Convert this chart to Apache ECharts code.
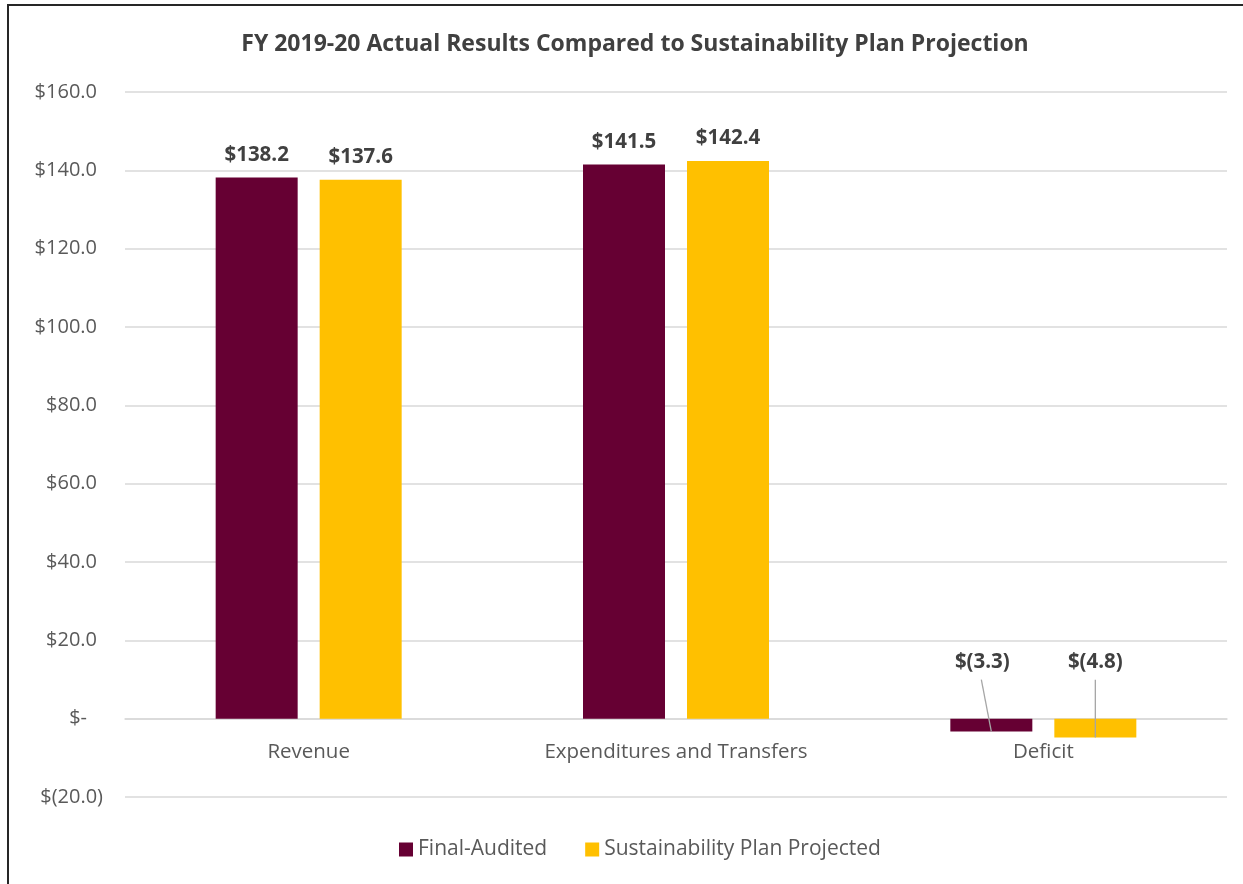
<!DOCTYPE html>
<html>
<head>
<meta charset="utf-8">
<script src="https://cdn.jsdelivr.net/npm/echarts@6/dist/echarts.min.js"></script>
<style>
html,body{margin:0;padding:0;background:#fff;}
#chart{width:1243px;height:884px;}
</style>
</head>
<body>
<div id="chart"></div>
<script>
const categories = ['Revenue', 'Expenditures and Transfers', 'Deficit'];
const seriesNames = ['Final-Audited', 'Sustainability Plan Projected'];
const finalAudited = [138.2, 141.5, -3.3];
const planProjected = [137.6, 142.4, -4.8];
const yTicks = { min: -20, max: 160, interval: 20 };

const FONT = '"Open Sans", sans-serif';
const COLORS = ['#660033', '#FFC000'];
const GRID = { left: 125, right: 16, top: 92, bottom: 87 };
const BAR_W = 82, BAR_GAP = 22;
const NEG_LABEL_DIST = 46;
const fmt = v => v < 0 ? '$(' + Math.abs(v).toFixed(1) + ')' : (v === 0 ? '$-' : '$' + v.toFixed(1));

const chart = echarts.init(document.getElementById('chart'), null, { renderer: 'canvas' });
const plotH = 884 - GRID.top - GRID.bottom;
const zeroOffset = (0 - yTicks.min) / (yTicks.max - yTicks.min) * plotH;

function barSeries(name, data, color, sIdx) {
  return {
    name: name,
    type: 'bar',
    barWidth: BAR_W,
    barGap: (BAR_GAP / BAR_W * 100) + '%',
    itemStyle: { color: color },
    z: 3,
    data: data.map(v => {
      const neg = v < 0;
      return {
        value: v,
        label: {
          show: true,
          position: 'top',
          distance: neg ? NEG_LABEL_DIST : 12,
          offset: neg && sIdx === 0 ? [-9, 0] : [0, 0],
          formatter: p => fmt(p.value),
          color: '#404040',
          fontFamily: FONT,
          fontWeight: 'bold',
          fontSize: 20.5
        }
      };
    })
  };
}

// leader lines for negative values (label bottom -> bar bottom)
const leaderData = [];
[finalAudited, planProjected].forEach((arr, s) => {
  arr.forEach((v, i) => { if (v < 0) leaderData.push([i, v, s]); });
});

chart.setOption({
  animation: false,
  title: {
    text: 'FY 2019-20 Actual Results Compared to Sustainability Plan Projection',
    left: 630,
    textAlign: 'center',
    top: 28,
    textStyle: { fontFamily: FONT, fontWeight: 'bold', fontSize: 23, color: '#404040' }
  },
  legend: {
    bottom: 19,
    left: 394,
    itemWidth: 14,
    itemHeight: 14,
    itemGap: 38,
    icon: 'rect',
    textStyle: { fontFamily: FONT, fontSize: 21, color: '#595959' },
    data: seriesNames
  },
  grid: Object.assign({ containLabel: false }, GRID),
  xAxis: {
    type: 'category',
    data: categories,
    offset: -zeroOffset,
    axisLine: { onZero: false, lineStyle: { color: '#d9d9d9', width: 1.5 } },
    axisTick: { show: false },
    axisLabel: { fontFamily: FONT, fontSize: 20.5, color: '#595959', margin: 23 }
  },
  yAxis: {
    type: 'value',
    min: yTicks.min,
    max: yTicks.max,
    interval: yTicks.interval,
    axisLine: { show: false },
    axisTick: { show: false },
    splitLine: { lineStyle: { color: '#d9d9d9', width: 1.5 } },
    axisLabel: {
      margin: 22,
      fontFamily: FONT,
      fontSize: 20,
      color: '#595959',
      formatter: v => v < 0 ? fmt(v) : (v === 0 ? '{z|$-}' : '{p|' + fmt(v) + '}'),
      rich: {
        p: { fontFamily: FONT, fontSize: 20, color: '#595959', padding: [0, 6, 0, 0] },
        z: { fontFamily: FONT, fontSize: 20, color: '#595959', padding: [0, 16, 0, 0] }
      }
    }
  },
  graphic: [{
    type: 'rect',
    shape: { x: 8, y: 5, width: 1400, height: 1000 },
    style: { fill: 'none', stroke: '#262626', lineWidth: 2 },
    silent: true
  }],
  series: [
    barSeries(seriesNames[0], finalAudited, COLORS[0], 0),
    barSeries(seriesNames[1], planProjected, COLORS[1], 1),
    {
      type: 'custom',
      silent: true,
      z: 5,
      data: leaderData,
      renderItem: function (params, api) {
        const cat = api.value(0), val = api.value(1), s = api.value(2);
        const base = api.coord([cat, 0]);
        const end = api.coord([cat, val]);
        const shift = (s === 0 ? -1 : 1) * (BAR_W + BAR_GAP) / 2;
        const bx = base[0] + shift;
        const lx = bx + (s === 0 ? -10 : 0);
        return {
          type: 'line',
          shape: { x1: lx, y1: base[1] - NEG_LABEL_DIST + 7, x2: bx, y2: end[1] },
          style: { stroke: '#a6a6a6', lineWidth: 1.3 }
        };
      }
    }
  ]
});
</script>
</body>
</html>
